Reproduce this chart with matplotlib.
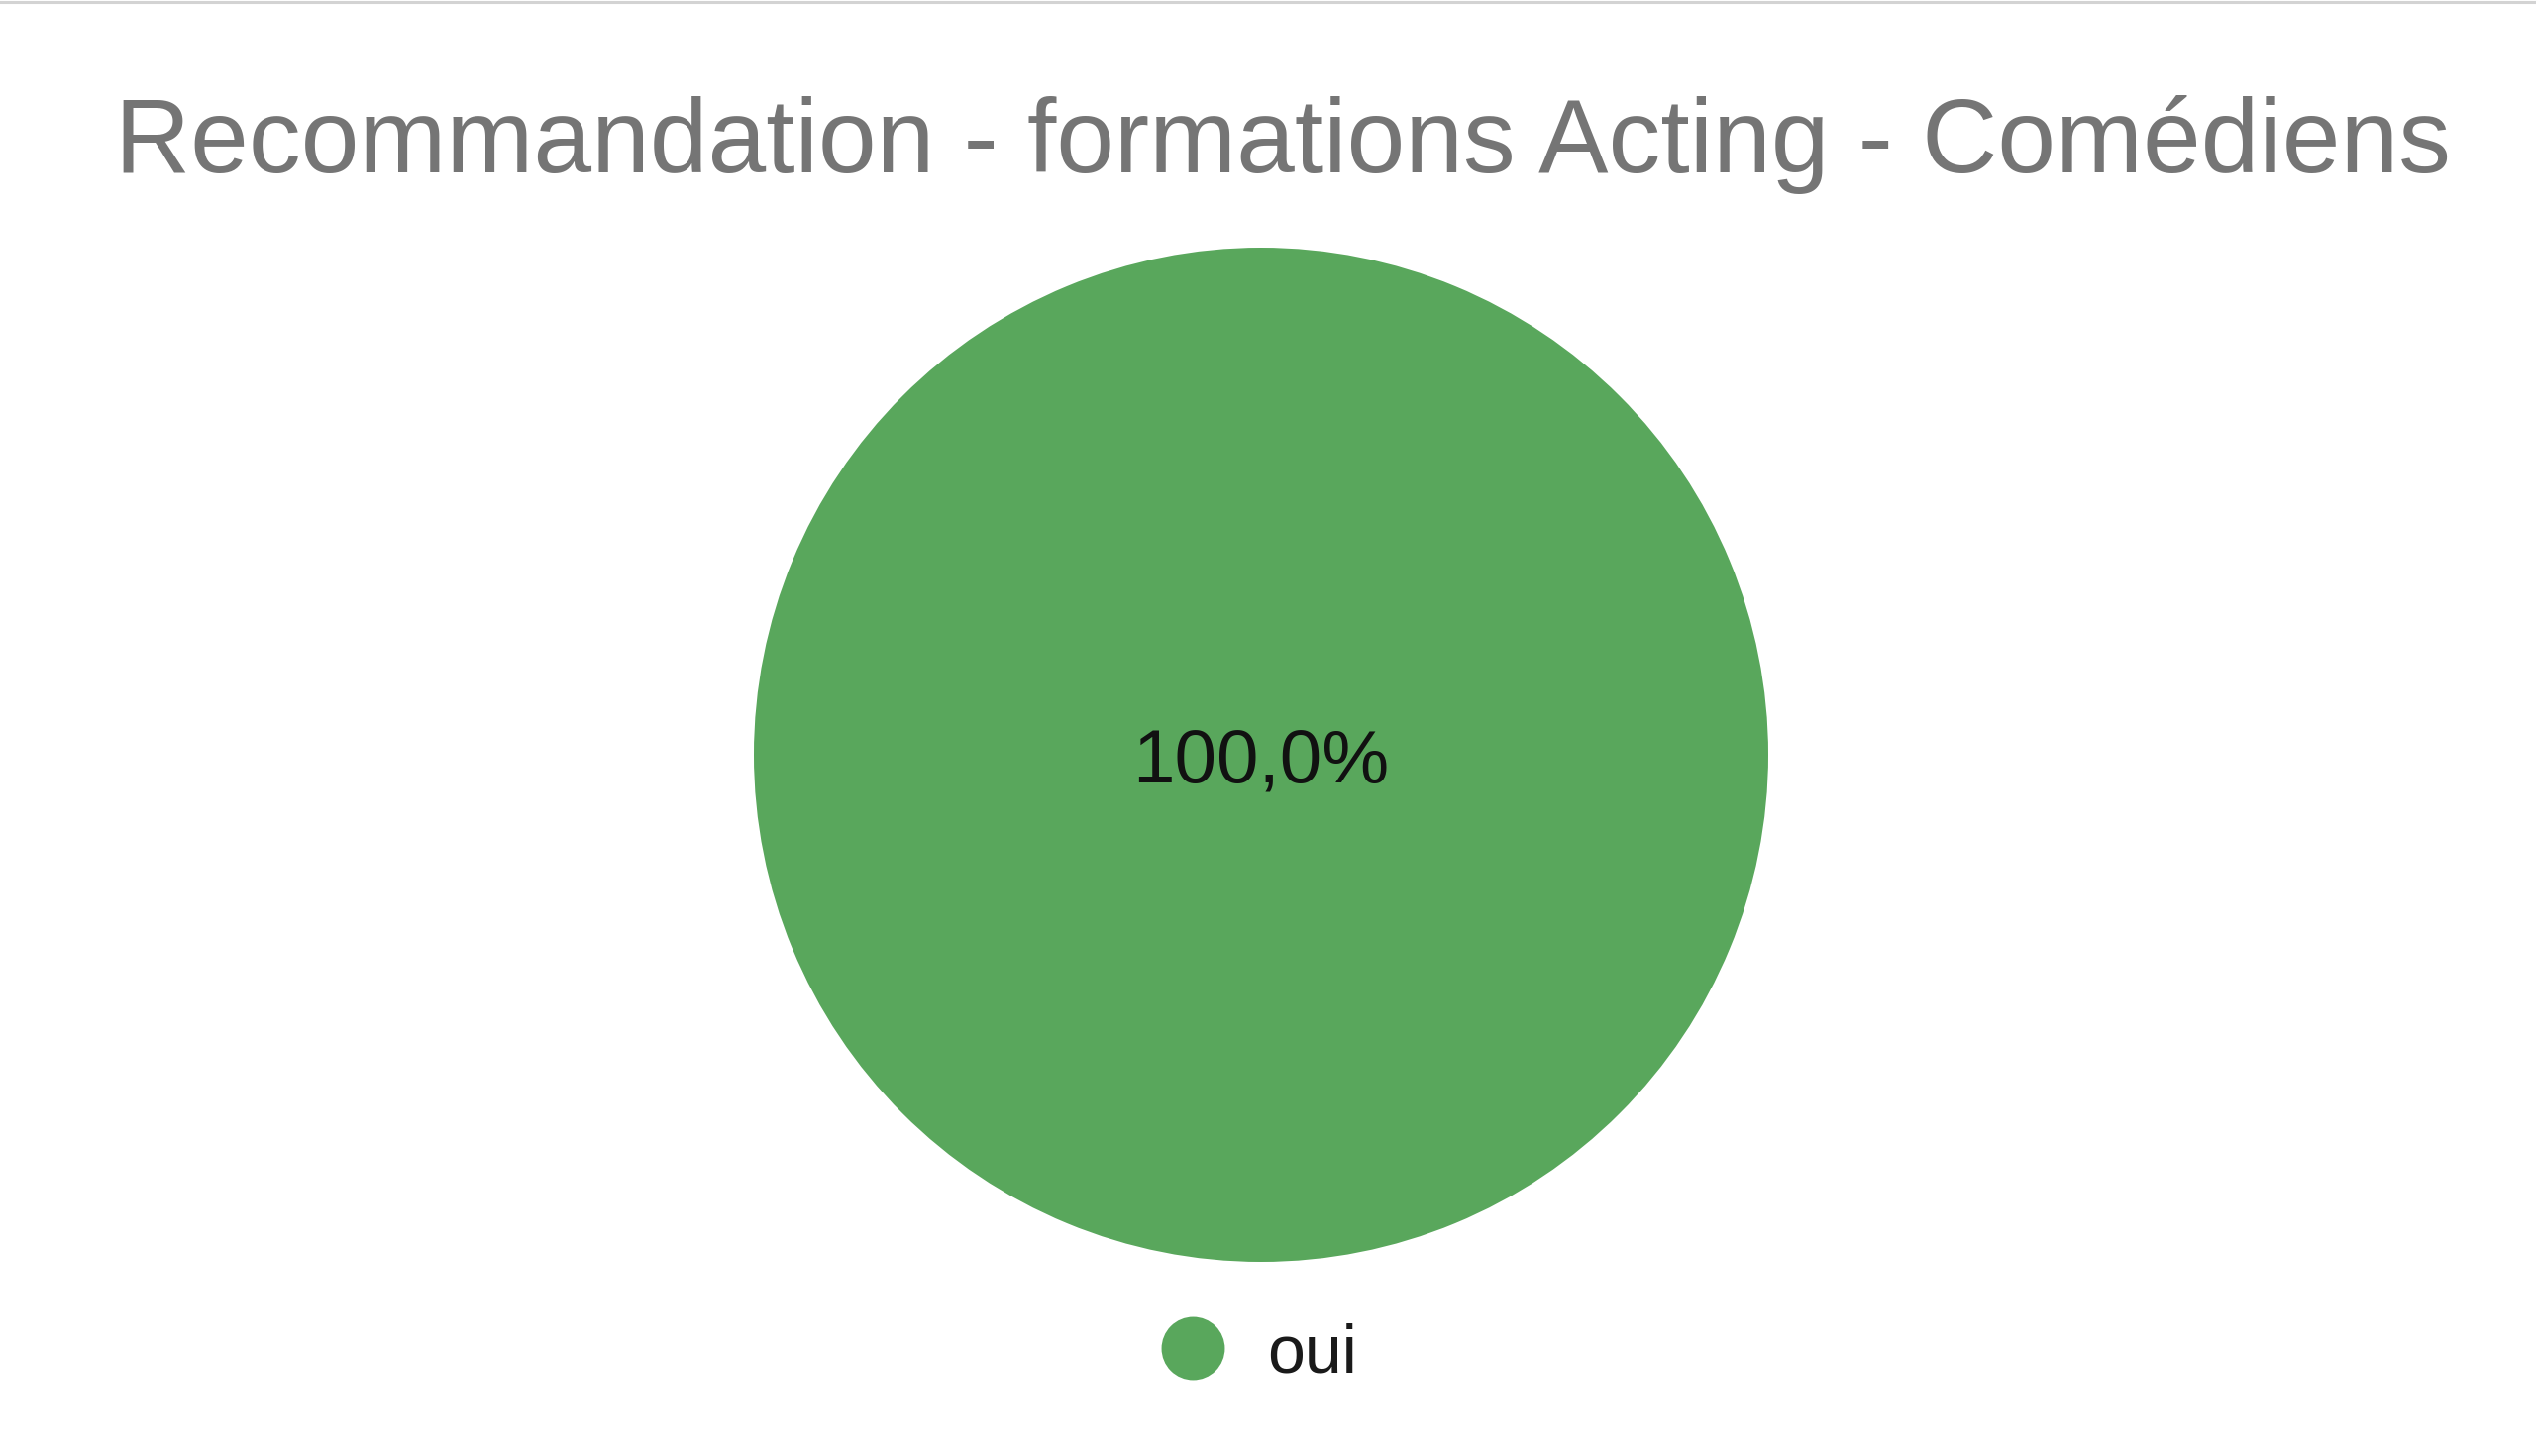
import matplotlib
matplotlib.use('Agg')
import matplotlib.pyplot as plt
from matplotlib.lines import Line2D

plt.rcParams['font.family'] = ['Liberation Sans', 'DejaVu Sans']

# Data
categories = ['oui']
values = [100.0]
colors = ['#59a75c']
title = 'Recommandation - formations Acting - Comédiens'

W, H = 2560, 1470
fig = plt.figure(figsize=(W / 100, H / 100), dpi=100)

# thin grey border on top
fig.add_artist(Line2D([0, 1], [1 - 1.5 / H, 1 - 1.5 / H], color='#d3d3d3', lw=2.2))

# pie axes placed around the pie box
cx, cy, r = 1273, 762, 512
ax = fig.add_axes([(cx - r) / W, (H - cy - r) / H, 2 * r / W, 2 * r / H])


def fmt(p):
    return f'{p:.1f}'.replace('.', ',') + '%'


wedges, texts, autotexts = ax.pie(values, colors=colors, startangle=90, counterclock=False,
                                  autopct=fmt, pctdistance=0.0,
                                  wedgeprops=dict(linewidth=0),
                                  textprops=dict(fontsize=55, color='#111111'))
for t in autotexts:
    t.set_y(t.get_position()[1] - 0.018)
ax.set_xlim(-1, 1)
ax.set_ylim(-1, 1)
ax.set_aspect('equal')
ax.axis('off')

fig.text(0.506, 1 - 146 / H, title, ha='center', va='center', fontsize=76, color='#757575')

handles = [Line2D([], [], marker='o', linestyle='none', markersize=46,
                  markerfacecolor=c, markeredgewidth=0) for c in colors]
fig.legend(handles, categories, loc='center', bbox_to_anchor=(1270 / W, 1 - 1367 / H),
           frameon=False, fontsize=49, handlelength=1.0, handletextpad=0.6,
           labelcolor='#1a1a1a')

fig.savefig('out.png', dpi=100, facecolor='white')
